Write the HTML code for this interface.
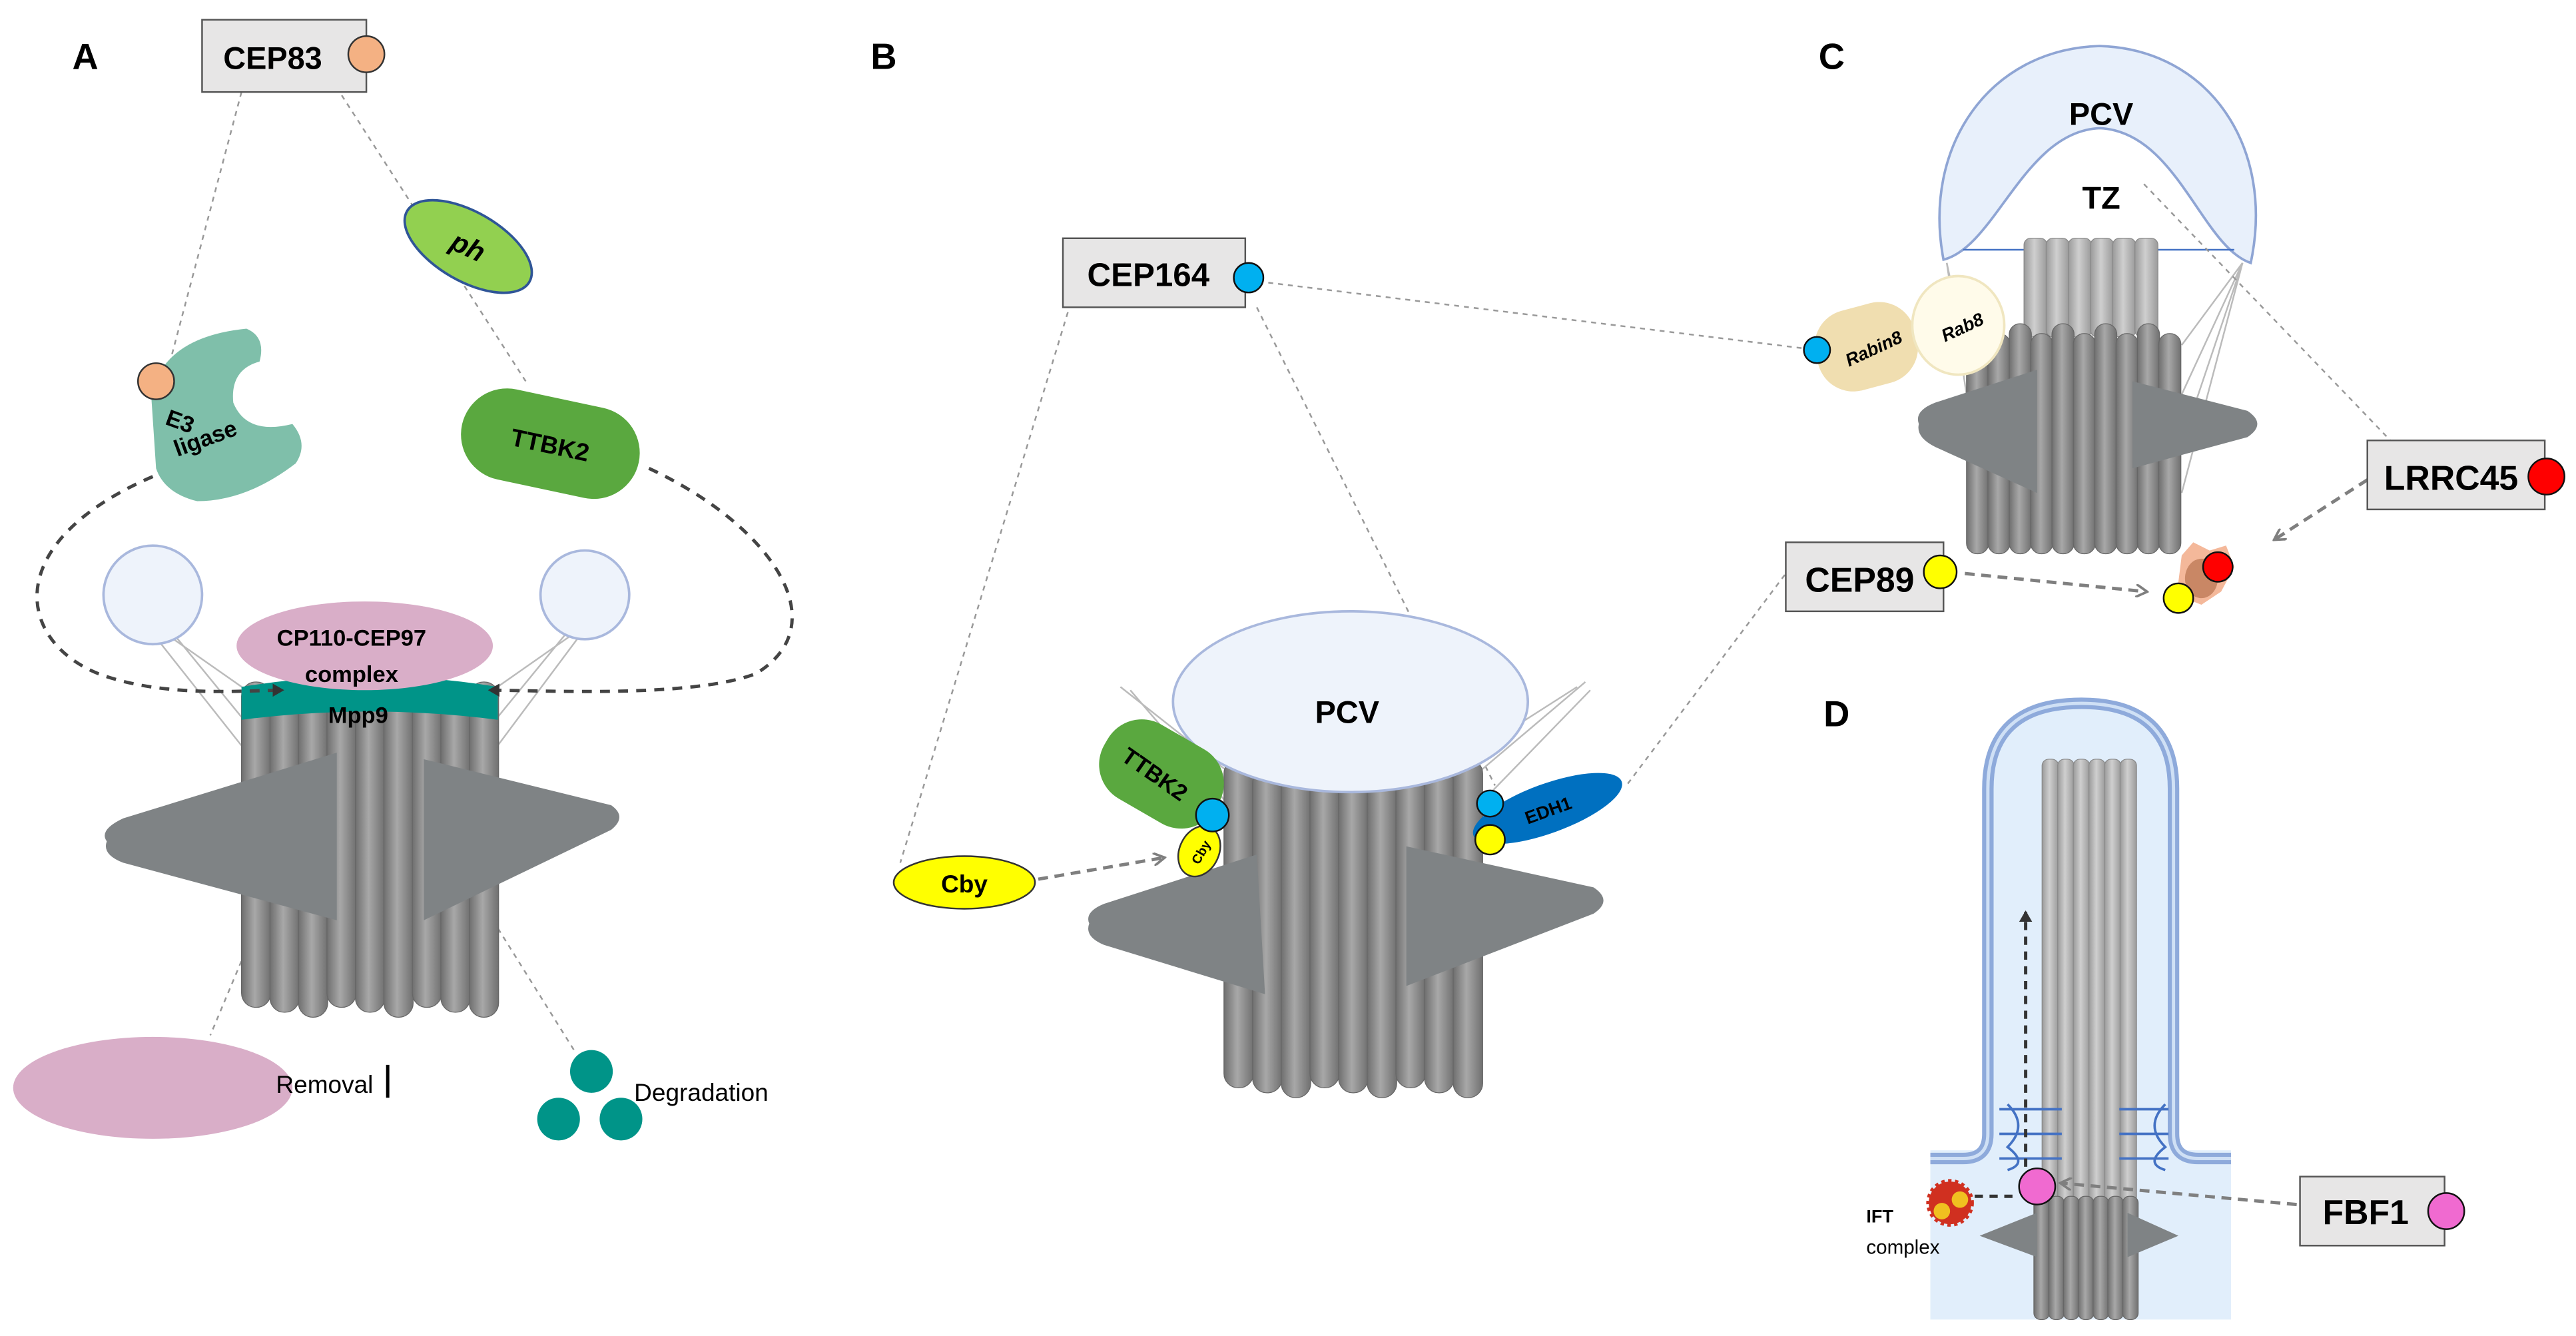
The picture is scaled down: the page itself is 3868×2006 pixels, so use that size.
<!DOCTYPE html>
<html><head><meta charset="utf-8"><style>
html,body{margin:0;padding:0;background:#fff;}
svg{display:block;}
text{font-family:"Liberation Sans",sans-serif;}
</style></head><body>
<svg id="s" width="3868" height="2006" viewBox="0 0 1568 813" preserveAspectRatio="none" xmlns="http://www.w3.org/2000/svg">
<defs>
<linearGradient id="col" x1="0" x2="1" y1="0" y2="0">
<stop offset="0" stop-color="#6f6f6f"/><stop offset="0.45" stop-color="#a8a8a8"/><stop offset="1" stop-color="#707070"/>
</linearGradient>
<linearGradient id="colL" x1="0" x2="1" y1="0" y2="0">
<stop offset="0" stop-color="#9a9a9a"/><stop offset="0.45" stop-color="#cfcfcf"/><stop offset="1" stop-color="#9a9a9a"/>
</linearGradient>
<marker id="ah" markerWidth="8" markerHeight="8" refX="6" refY="4" orient="auto" markerUnits="userSpaceOnUse"><path d="M0,0 L7,4 L0,8" fill="none" stroke="#7f7f7f" stroke-width="1.5"/></marker>
<marker id="ahk" markerWidth="8" markerHeight="8" refX="6" refY="4" orient="auto" markerUnits="userSpaceOnUse"><path d="M0,0 L7,4 L0,8 z" fill="#333"/></marker>
</defs>
<rect width="1568" height="813" fill="#fff"/>

<!-- ============ A ============ -->
<text x="44" y="42" font-size="22" font-weight="bold">A</text>
<g stroke="#999" stroke-width="1" stroke-dasharray="3,3" fill="none">
<line x1="147" y1="56" x2="103" y2="222"/>
<line x1="208" y1="58" x2="320" y2="232"/>
<line x1="212" y1="430" x2="128" y2="630"/>
<line x1="230" y1="448" x2="350" y2="640"/>
</g>
<g stroke="#bbb" stroke-width="1">
<line x1="100" y1="385" x2="150" y2="420"/><line x1="105" y1="385" x2="150" y2="440"/><line x1="95" y1="388" x2="148" y2="455"/>
<line x1="350" y1="385" x2="300" y2="420"/><line x1="345" y1="385" x2="300" y2="440"/><line x1="352" y1="388" x2="302" y2="455"/>
</g>
<circle cx="93" cy="362" r="30" fill="#eef3fb" stroke="#a9b8dd" stroke-width="1.5"/>
<circle cx="356" cy="362" r="27" fill="#eef3fb" stroke="#a9b8dd" stroke-width="1.5"/>
<g id="barrelA"></g>
<path d="M65,512 Q60,505 75,498 L205,458 L205,560 L75,525 Q62,520 65,512 Z" fill="#7f8385"/>
<path d="M258,462 L372,490 Q382,497 372,505 L258,560 Z" fill="#7f8385"/>
<path d="M147,418 Q225,405 303,418 L303,438 Q225,428 147,438 Z" fill="#009488"/>
<ellipse cx="222" cy="393" rx="78" ry="27" fill="#d9aec8"/>
<text x="214" y="393" font-size="14" font-weight="bold" text-anchor="middle">CP110-CEP97</text>
<text x="214" y="415" font-size="14" font-weight="bold" text-anchor="middle">complex</text>
<text x="218" y="440" font-size="14" font-weight="bold" text-anchor="middle">Mpp9</text>
<g fill="none" stroke="#444" stroke-width="2" stroke-dasharray="6,5">
<path d="M93,290 C0,330 10,390 60,410 C100,425 150,420 172,420" marker-end="url(#ahk)"/>
<path d="M395,285 C470,320 510,380 460,410 C420,425 330,420 298,420" marker-end="url(#ahk)"/>
</g>
<rect x="123" y="12" width="100" height="44" fill="#e7e6e6" stroke="#555" stroke-width="1"/>
<text x="166" y="42" font-size="19" font-weight="bold" text-anchor="middle">CEP83</text>
<circle cx="223" cy="33" r="11" fill="#f4b183" stroke="#333" stroke-width="1"/>
<ellipse cx="285" cy="150" rx="43" ry="21" transform="rotate(30 285 150)" fill="#92d050" stroke="#2f5597" stroke-width="1.5"/>
<text x="285" y="156" font-size="17" font-weight="bold" font-style="italic" text-anchor="middle" transform="rotate(25 285 150)">ph</text>
<path d="M92,240 Q100,205 150,200 Q162,205 158,220 Q140,225 142,245 Q150,265 178,258 Q188,270 180,282 Q150,305 120,305 Q100,300 95,285 Z" fill="#7fbfaa"/>
<text x="100" y="258" font-size="14" font-weight="bold" transform="rotate(20 100 258)">E3</text>
<text x="108" y="278" font-size="14" font-weight="bold" transform="rotate(-20 108 278)">ligase</text>
<circle cx="95" cy="232" r="11" fill="#f4b183" stroke="#333" stroke-width="1"/>
<rect x="280" y="242" width="110" height="56" rx="28" transform="rotate(12 335 270)" fill="#5aa83f"/>
<text x="335" y="276" font-size="15" font-weight="bold" text-anchor="middle" transform="rotate(12 335 270)">TTBK2</text>
<ellipse cx="93" cy="662" rx="85" ry="31" fill="#d9aec8"/>
<text x="168" y="665" font-size="15">Removal</text>
<line x1="236" y1="648" x2="236" y2="668" stroke="#000" stroke-width="2"/>
<circle cx="360" cy="652" r="13" fill="#009488"/><circle cx="340" cy="681" r="13" fill="#009488"/><circle cx="378" cy="681" r="13" fill="#009488"/>
<text x="386" y="670" font-size="15">Degradation</text>

<!-- ============ B ============ -->
<text x="530" y="42" font-size="22" font-weight="bold">B</text>
<g stroke="#999" stroke-width="1" stroke-dasharray="3,3" fill="none">
<line x1="650" y1="190" x2="548" y2="525"/>
<line x1="765" y1="187" x2="910" y2="478"/>
<line x1="772" y1="172" x2="1098" y2="212"/>
<line x1="1090" y1="345" x2="990" y2="478"/>
</g>
<g stroke="#bbb" stroke-width="1">
<line x1="682" y1="418" x2="748" y2="470"/><line x1="688" y1="420" x2="748" y2="490"/>
<line x1="965" y1="415" x2="900" y2="470"/><line x1="968" y1="420" x2="900" y2="490"/><line x1="960" y1="418" x2="902" y2="455"/>
</g>
<g id="barrelB"></g>
<path d="M663,562 Q660,555 672,550 L765,520 L770,605 L672,575 Q660,570 663,562 Z" fill="#7f8385"/>
<path d="M856,515 L970,540 Q982,548 970,556 L856,600 Z" fill="#7f8385"/>
<ellipse cx="822" cy="427" rx="108" ry="55" fill="#eef3fb" stroke="#a9b8dd" stroke-width="1.5"/>
<text x="820" y="440" font-size="19" font-weight="bold" text-anchor="middle">PCV</text>
<rect x="668" y="445" width="78" height="52" rx="24" transform="rotate(30 707 471)" fill="#5aa83f"/>
<text x="703" y="476" font-size="14" font-weight="bold" text-anchor="middle" transform="rotate(35 703 471)">TTBK2</text>
<ellipse cx="730" cy="518" rx="12" ry="16" transform="rotate(25 730 518)" fill="#ffff00" stroke="#333"/>
<text x="730" y="522" font-size="8" font-weight="bold" text-anchor="middle" transform="rotate(-60 730 518)">Cby</text>
<circle cx="738" cy="496" r="10" fill="#00b0f0" stroke="#111"/>
<ellipse cx="942" cy="492" rx="48" ry="15" transform="rotate(-20 942 492)" fill="#0070c0"/>
<text x="942" y="497" font-size="11" font-weight="bold" text-anchor="middle" transform="rotate(-20 942 492)">EDH1</text>
<circle cx="907" cy="489" r="8" fill="#00b0f0" stroke="#111"/>
<circle cx="907" cy="511" r="9" fill="#ffff00" stroke="#111"/>
<ellipse cx="587" cy="537" rx="43" ry="16" fill="#ffff00" stroke="#333"/>
<text x="587" y="543" font-size="15" font-weight="bold" text-anchor="middle">Cby</text>
<line x1="632" y1="535" x2="708" y2="522" stroke="#7f7f7f" stroke-width="2" stroke-dasharray="6,4" marker-end="url(#ah)"/>
<rect x="647" y="145" width="111" height="42" fill="#e7e6e6" stroke="#555"/>
<text x="699" y="174" font-size="20" font-weight="bold" text-anchor="middle">CEP164</text>
<circle cx="760" cy="169" r="9" fill="#00b0f0" stroke="#111"/>

<!-- ============ C ============ -->
<text x="1107" y="42" font-size="22" font-weight="bold">C</text>
<path d="M1183,158 C1170,90 1210,30 1278,28 C1345,30 1385,90 1370,160 C1340,150 1325,80 1278,78 C1232,80 1215,150 1183,158 Z" fill="#e8f0fb" stroke="#8fa5d4" stroke-width="1.5"/>
<text x="1279" y="76" font-size="19" font-weight="bold" text-anchor="middle">PCV</text>
<text x="1279" y="127" font-size="19" font-weight="bold" text-anchor="middle">TZ</text>
<line x1="1195" y1="152" x2="1360" y2="152" stroke="#4472c4" stroke-width="1"/>
<g stroke="#bbb" stroke-width="1">
<line x1="1365" y1="160" x2="1328" y2="210"/><line x1="1365" y1="160" x2="1328" y2="240"/><line x1="1365" y1="160" x2="1328" y2="270"/><line x1="1365" y1="160" x2="1328" y2="300"/>
<line x1="1185" y1="160" x2="1200" y2="230"/><line x1="1185" y1="160" x2="1200" y2="260"/>
</g>
<g stroke="#999" stroke-width="1" stroke-dasharray="3,3" fill="none">
<line x1="1305" y1="112" x2="1455" y2="268"/>
</g>
<g id="barrelC"></g>
<path d="M1168,258 Q1165,250 1178,245 L1240,225 L1240,300 L1178,272 Q1166,266 1168,258 Z" fill="#7f8385"/>
<path d="M1298,232 L1368,250 Q1380,258 1368,266 L1298,285 Z" fill="#7f8385"/>
<rect x="1105" y="186" width="62" height="50" rx="22" transform="rotate(-15 1136 211)" fill="#f0deb0"/>
<text x="1140" y="216" font-size="11" font-weight="bold" font-style="italic" text-anchor="middle" transform="rotate(-25 1140 211)">Rabin8</text>
<ellipse cx="1192" cy="198" rx="28" ry="30" fill="#fffbea" stroke="#f0e6c0" stroke-width="1.5"/>
<text x="1194" y="203" font-size="11" font-weight="bold" font-style="italic" text-anchor="middle" transform="rotate(-25 1194 198)">Rab8</text>
<circle cx="1106" cy="213" r="8" fill="#00b0f0" stroke="#111"/>
<g>
<path d="M1328,338 L1335,330 L1345,335 L1355,332 L1360,345 L1352,360 L1340,368 L1325,362 Z" fill="#f4b89a"/>
<ellipse cx="1340" cy="352" rx="10" ry="12" fill="#c98765"/>
<circle cx="1350" cy="345" r="9" fill="#ff0000" stroke="#111"/>
<circle cx="1326" cy="364" r="9" fill="#ffff00" stroke="#111"/>
</g>
<line x1="1441" y1="292" x2="1385" y2="328" stroke="#7f7f7f" stroke-width="2" stroke-dasharray="6,4" marker-end="url(#ah)"/>
<line x1="1196" y1="349" x2="1306" y2="360" stroke="#7f7f7f" stroke-width="2" stroke-dasharray="6,4" marker-end="url(#ah)"/>
<rect x="1441" y="268" width="108" height="42" fill="#e7e6e6" stroke="#555"/>
<text x="1492" y="298" font-size="21" font-weight="bold" text-anchor="middle">LRRC45</text>
<circle cx="1550" cy="290" r="11" fill="#ff0000" stroke="#111"/>
<rect x="1087" y="330" width="96" height="42" fill="#e7e6e6" stroke="#555"/>
<text x="1132" y="360" font-size="21" font-weight="bold" text-anchor="middle">CEP89</text>
<circle cx="1181" cy="348" r="10" fill="#ffff00" stroke="#111"/>

<!-- ============ D ============ -->
<text x="1110" y="442" font-size="22" font-weight="bold">D</text>
<rect x="1175" y="700" width="183" height="103" fill="#e1eefb"/>
<path d="M1175,705 L1195,705 Q1210,705 1210,690 L1210,480 Q1210,428 1267,428 Q1323,428 1323,480 L1323,690 Q1323,705 1338,705 L1358,705" fill="#e1eefb" stroke="#8eaadb" stroke-width="7"/>
<path d="M1175,705 L1195,705 Q1210,705 1210,690 L1210,480 Q1210,428 1267,428 Q1323,428 1323,480 L1323,690 Q1323,705 1338,705 L1358,705" fill="none" stroke="#cfe0f5" stroke-width="2"/>
<g id="barrelD"></g>
<path d="M1205,752 L1240,738 L1240,765 Z" fill="#7f8385"/><path d="M1295,738 L1326,752 L1295,765 Z" fill="#7f8385"/>
<g stroke="#4472c4" stroke-width="1.5" fill="none">
<path d="M1217,675 L1255,675 M1217,690 L1255,690 M1217,705 L1255,705 M1222,672 Q1235,685 1222,698 Q1235,708 1222,712"/>
<path d="M1290,675 L1320,675 M1290,690 L1320,690 M1290,705 L1320,705 M1318,672 Q1305,685 1318,698 Q1305,708 1318,712"/>
</g>
<line x1="1233" y1="710" x2="1233" y2="555" stroke="#333" stroke-width="2" stroke-dasharray="5,4" marker-end="url(#ahk)"/>
<line x1="1202" y1="728" x2="1228" y2="728" stroke="#333" stroke-width="2" stroke-dasharray="5,4"/>
<line x1="1398" y1="733" x2="1255" y2="720" stroke="#7f7f7f" stroke-width="2" stroke-dasharray="6,4" marker-end="url(#ah)"/>
<circle cx="1240" cy="722" r="11" fill="#f06ad0" stroke="#111"/>
<circle cx="1187" cy="732" r="13" fill="#d03020" stroke="#d03020" stroke-width="3" stroke-dasharray="2,2"/>
<circle cx="1182" cy="737" r="5" fill="#f0c020"/><circle cx="1193" cy="730" r="5" fill="#f0c020"/>
<text x="1136" y="744" font-size="11" font-weight="bold">IFT</text>
<text x="1136" y="763" font-size="12">complex</text>
<rect x="1400" y="716" width="88" height="42" fill="#e7e6e6" stroke="#555"/>
<text x="1440" y="745" font-size="21" font-weight="bold" text-anchor="middle">FBF1</text>
<circle cx="1489" cy="737" r="11" fill="#f06ad0" stroke="#111"/>
</svg>
<script>
function barrel(id,x,y,w,h,n,grad){
 var g=document.getElementById(id),s='',cw=w/n;
 for(var i=0;i<n;i++){
  var off=(i%2)*6;
  s+='<rect x="'+(x+i*cw)+'" y="'+(y+off)+'" width="'+(cw+0.5)+'" height="'+(h-off+(i%3)*3)+'" rx="'+(cw/2)+'" fill="url(#'+grad+')" stroke="#666" stroke-width="0.5"/>';
 }
 g.innerHTML=s;
}
barrel('barrelA',147,415,156,198,9,'col');
barrel('barrelB',745,462,157,200,9,'col');
(function(){
 var g=document.getElementById('barrelC'),s='';
 for(var i=0;i<6;i++){s+='<rect x="'+(1232+i*13.5)+'" y="145" width="14" height="60" rx="4" fill="url(#colL)" stroke="#888" stroke-width="0.5"/>';}
 var x=1197,w=130,n=10,cw=w/n;
 for(var i=0;i<n;i++){var off=(i%2)*6;
  s+='<rect x="'+(x+i*cw)+'" y="'+(197+off)+'" width="'+(cw+0.5)+'" height="'+(140-off)+'" rx="'+(cw/2)+'" fill="url(#col)" stroke="#666" stroke-width="0.5"/>';}
 g.innerHTML=s;
 var d=document.getElementById('barrelD'),t='';
 for(var i=0;i<6;i++){t+='<rect x="'+(1243+i*9.5)+'" y="462" width="10" height="270" rx="4" fill="url(#colL)" stroke="#888" stroke-width="0.5"/>';}
 for(var i=0;i<7;i++){t+='<rect x="'+(1238+i*9)+'" y="728" width="9.5" height="75" rx="4" fill="url(#col)" stroke="#666" stroke-width="0.5"/>';}
 d.innerHTML=t;
})();
</script>
</body></html>
